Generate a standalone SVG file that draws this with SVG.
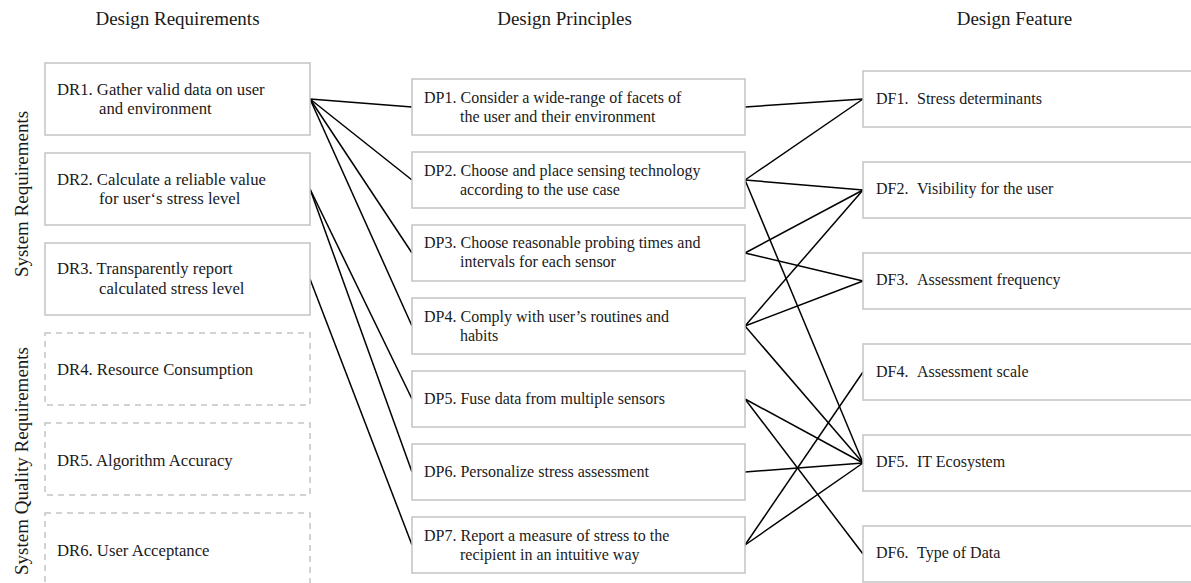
<svg xmlns="http://www.w3.org/2000/svg" width="1191" height="583" viewBox="0 0 1191 583">
  <style>
    text { font-family: "Liberation Serif", "Times New Roman", serif; fill: #1a1a1a; }
    .hdr { font-size: 19px; text-anchor: middle; }
    .side { font-size: 19px; text-anchor: middle; }
    .lbl { font-size: 16px; }
    .req { font-size: 16.7px; }
    .box { fill: #ffffff; stroke: #c3c3c3; stroke-width: 1.5; }
    .dash { fill: #ffffff; stroke: #c3c3c3; stroke-width: 1.5; stroke-dasharray: 6 5; }
    .link { stroke: #000000; stroke-width: 1.5; fill: none; }
  </style>
  <rect width="1191" height="583" fill="#ffffff"/>

  <!-- column headings -->
  <text class="hdr" x="177.5" y="25">Design Requirements</text>
  <text class="hdr" x="564.5" y="25">Design Principles</text>
  <text class="hdr" x="1014.5" y="25">Design Feature</text>

  <!-- side labels -->
  <text class="side" transform="translate(28,194) rotate(-90)">System Requirements</text>
  <text class="side" transform="translate(28,461) rotate(-90)">System Quality Requirements</text>

  <!-- connectors -->
  <g id="connectors">
    <!-- requirements to principles -->
    <line class="link" x1="310" y1="99" x2="412" y2="107"/>
    <line class="link" x1="310" y1="99" x2="412" y2="180"/>
    <line class="link" x1="310" y1="99" x2="412" y2="253"/>
    <line class="link" x1="310" y1="99" x2="412" y2="326"/>
    <line class="link" x1="310" y1="189" x2="412" y2="399"/>
    <line class="link" x1="310" y1="189" x2="412" y2="472"/>
    <line class="link" x1="310" y1="279" x2="412" y2="545"/>
    <!-- principles to features -->
    <line class="link" x1="745" y1="107" x2="863" y2="99"/>
    <line class="link" x1="745" y1="180" x2="863" y2="99"/>
    <line class="link" x1="745" y1="180" x2="863" y2="190"/>
    <line class="link" x1="745" y1="180" x2="863" y2="463"/>
    <line class="link" x1="745" y1="253" x2="863" y2="190"/>
    <line class="link" x1="745" y1="253" x2="863" y2="281"/>
    <line class="link" x1="745" y1="326" x2="863" y2="190"/>
    <line class="link" x1="745" y1="326" x2="863" y2="281"/>
    <line class="link" x1="745" y1="326" x2="863" y2="463"/>
    <line class="link" x1="745" y1="399" x2="863" y2="463"/>
    <line class="link" x1="745" y1="399" x2="863" y2="554"/>
    <line class="link" x1="745" y1="472" x2="863" y2="463"/>
    <line class="link" x1="745" y1="545" x2="863" y2="372"/>
    <line class="link" x1="745" y1="545" x2="863" y2="463"/>
  </g>

  <!-- design requirements -->
  <g id="DR1">
    <rect class="box" x="45" y="63" width="265" height="72"/>
    <text class="req" x="57" y="95">DR1. Gather valid data on user</text>
    <text class="req" x="99" y="114">and environment</text>
  </g>
  <g id="DR2">
    <rect class="box" x="45" y="153" width="265" height="72"/>
    <text class="req" x="57" y="185">DR2. Calculate a reliable value</text>
    <text class="req" x="99" y="204">for user‘s stress level</text>
  </g>
  <g id="DR3">
    <rect class="box" x="45" y="243" width="265" height="72"/>
    <text class="req" x="57" y="274">DR3. Transparently report</text>
    <text class="req" x="99" y="294">calculated stress level</text>
  </g>
  <g id="DR4">
    <rect class="dash" x="45" y="333" width="265" height="72"/>
    <text class="req" x="57" y="375">DR4. Resource Consumption</text>
  </g>
  <g id="DR5">
    <rect class="dash" x="45" y="423" width="265" height="72"/>
    <text class="req" x="57" y="466">DR5. Algorithm Accuracy</text>
  </g>
  <g id="DR6">
    <rect class="dash" x="45" y="513" width="265" height="72"/>
    <text class="req" x="57" y="556">DR6. User Acceptance</text>
  </g>

  <!-- design principles -->
  <g id="DP1">
    <rect class="box" x="412" y="79" width="333" height="56"/>
    <text class="lbl" x="424" y="103">DP1. Consider a wide-range of facets of</text>
    <text class="lbl" x="460" y="122">the user and their environment</text>
  </g>
  <g id="DP2">
    <rect class="box" x="412" y="152" width="333" height="56"/>
    <text class="lbl" x="424" y="176">DP2. Choose and place sensing technology</text>
    <text class="lbl" x="460" y="195">according to the use case</text>
  </g>
  <g id="DP3">
    <rect class="box" x="412" y="225" width="333" height="56"/>
    <text class="lbl" x="424" y="248">DP3. Choose reasonable probing times and</text>
    <text class="lbl" x="460" y="267">intervals for each sensor</text>
  </g>
  <g id="DP4">
    <rect class="box" x="412" y="298" width="333" height="56"/>
    <text class="lbl" x="424" y="322">DP4. Comply with user’s routines and</text>
    <text class="lbl" x="460" y="341">habits</text>
  </g>
  <g id="DP5">
    <rect class="box" x="412" y="371" width="333" height="56"/>
    <text class="lbl" x="424" y="404">DP5. Fuse data from multiple sensors</text>
  </g>
  <g id="DP6">
    <rect class="box" x="412" y="444" width="333" height="56"/>
    <text class="lbl" x="424" y="477">DP6. Personalize stress assessment</text>
  </g>
  <g id="DP7">
    <rect class="box" x="412" y="517" width="333" height="56"/>
    <text class="lbl" x="424" y="541">DP7. Report a measure of stress to the</text>
    <text class="lbl" x="460" y="560">recipient in an intuitive way</text>
  </g>

  <!-- design features -->
  <g id="DF1">
    <rect class="box" x="863" y="71" width="340" height="56"/>
    <text class="lbl" x="876" y="104">DF1.</text>
    <text class="lbl" x="917" y="104">Stress determinants</text>
  </g>
  <g id="DF2">
    <rect class="box" x="863" y="162" width="340" height="56"/>
    <text class="lbl" x="876" y="194">DF2.</text>
    <text class="lbl" x="917" y="194">Visibility for the user</text>
  </g>
  <g id="DF3">
    <rect class="box" x="863" y="253" width="340" height="56"/>
    <text class="lbl" x="876" y="285">DF3.</text>
    <text class="lbl" x="917" y="285">Assessment frequency</text>
  </g>
  <g id="DF4">
    <rect class="box" x="863" y="344" width="340" height="56"/>
    <text class="lbl" x="876" y="377">DF4.</text>
    <text class="lbl" x="917" y="377">Assessment scale</text>
  </g>
  <g id="DF5">
    <rect class="box" x="863" y="435" width="340" height="56"/>
    <text class="lbl" x="876" y="467">DF5.</text>
    <text class="lbl" x="917" y="467">IT Ecosystem</text>
  </g>
  <g id="DF6">
    <rect class="box" x="863" y="526" width="340" height="56"/>
    <text class="lbl" x="876" y="558">DF6.</text>
    <text class="lbl" x="917" y="558">Type of Data</text>
  </g>
</svg>
